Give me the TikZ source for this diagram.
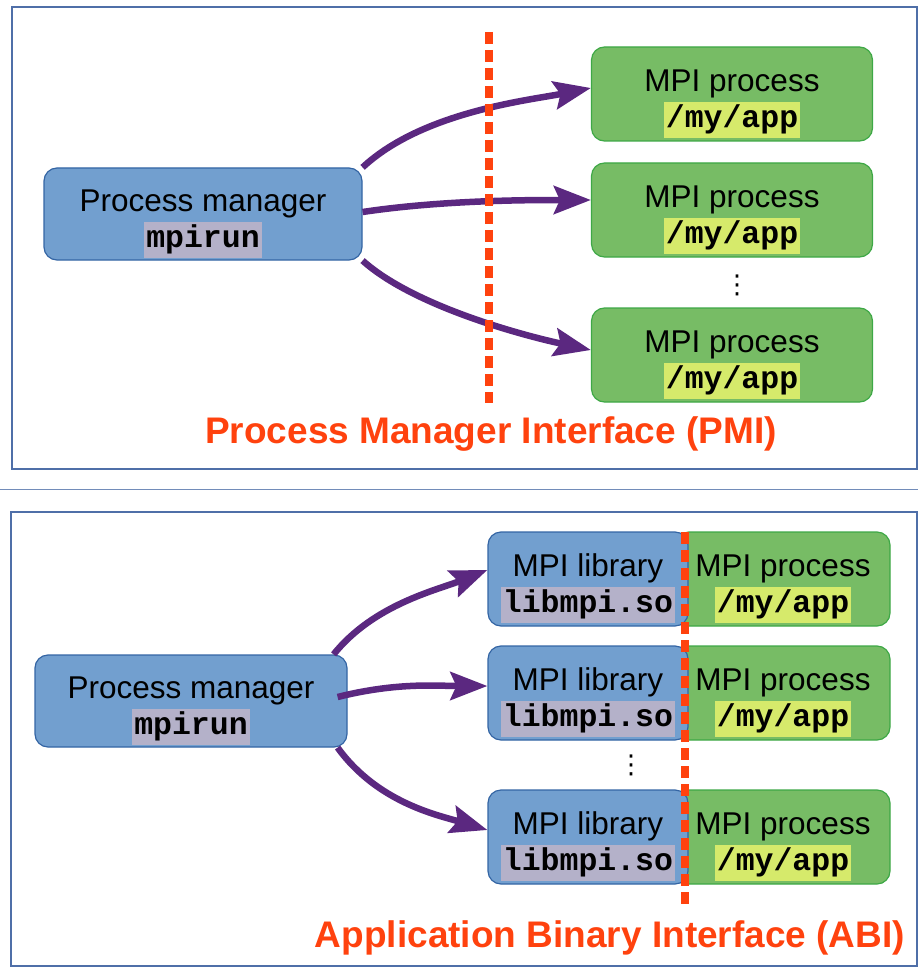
\documentclass[tikz,border=0pt]{standalone}
\usepackage{fontspec}
\setmainfont{Liberation Sans}
\setmonofont{Liberation Mono}
\newfontfamily\dotsfont{DejaVu Sans}
\usetikzlibrary{arrows.meta, positioning, calc}
\definecolor{pmblue}{RGB}{114,159,207}
\definecolor{pmblueline}{RGB}{52,101,164}
\definecolor{appgreen}{RGB}{119,188,101}
\definecolor{appgreenline}{RGB}{62,168,70}
\definecolor{hllavender}{RGB}{180,177,201}
\definecolor{hllime}{RGB}{214,234,107}
\definecolor{cutred}{RGB}{255,66,14}
\definecolor{arrpurple}{RGB}{91,40,128}
\definecolor{frameblue}{RGB}{79,111,168}
\newcommand{\hlcode}[2]{{\setlength{\fboxsep}{0pt}\colorbox{#1}{\strut\hspace{2pt}\ttfamily\bfseries #2\hspace{2pt}}}}
\newcommand{\boxtext}[3]{\rule{0pt}{41pt}#1\\\hlcode{#3}{#2}}

\begin{document}
\begin{tikzpicture}[
        x=1pt, y=-1pt,
        box/.style={rounded corners=13pt, line width=1.2pt, minimum height=94pt, inner sep=0pt, align=center, font=\fontsize{31.5}{36}\selectfont},
        pmbox/.style={box, draw=pmblueline, fill=pmblue, minimum height=92pt},
        appbox/.style={box, draw=appgreenline, fill=appgreen},
        libbox/.style={box, draw=pmblueline, fill=pmblue, minimum width=200pt},
        arr/.style={-{Stealth[length=37pt, width=28pt, inset=6pt]}, line width=6.5pt, arrpurple},
        cut/.style={cutred, line width=8pt, dash pattern=on 12pt off 6pt},
        panel/.style={frameblue, line width=1.2pt},
        ifacelabel/.style={text=cutred, inner sep=0pt, font=\fontsize{37}{44}\selectfont\bfseries},
        dotsnode/.style={inner sep=0pt, font=\dotsfont\fontsize{26}{28}\selectfont}
    ]
    \useasboundingbox (0,0) rectangle (918,968);

    % PMI panel
    \draw[panel] (12,7) rectangle (917,469);
    \node[pmbox, minimum width=318pt] (pm) at (203,214) {\boxtext{Process manager}{mpirun}{hllavender}};
    \node[appbox, minimum width=281pt] (app1) at (732,94) {\boxtext{MPI process}{/my/app}{hllime}};
    \node[appbox, minimum width=281pt] (app2) at (732,210) {\boxtext{MPI process}{/my/app}{hllime}};
    \node[appbox, minimum width=281pt] (app3) at (732,355) {\boxtext{MPI process}{/my/app}{hllime}};
    \node[dotsnode] (dots1) at (737,285) {⋮};

    \draw[arr] (pm.north east) .. controls +(60,-56) and +(-60,12) .. ([yshift=6pt]app1.west);
    \draw[arr] ([yshift=2pt]pm.east) .. controls +(80,-12) and +(-60,0) .. ([yshift=10pt]app2.west);
    \draw[arr] (pm.south east) .. controls +(50,45) and +(-70,-15) .. ([yshift=5pt]app3.west);

    \coordinate (cut1a) at (489,32);
    \coordinate (cut1b) at (489,403);
    \draw[cut] (cut1a) -- (cut1b);
    \node[ifacelabel] (pmi) at (491,434) {Process Manager Interface (PMI)};

    \coordinate (sepl) at (0,489);
    \coordinate (sepr) at (918,489);
    \draw[frameblue!80, line width=1pt] (sepl) -- (sepr);

    % ABI panel
    \draw[panel] (11,512) rectangle (917,966);
    \node[pmbox, minimum width=312pt] (pm2) at (191,701) {\boxtext{Process manager}{mpirun}{hllavender}};
    \node[appbox, minimum width=214pt] (proc1) at (783,579) {\boxtext{MPI process}{/my/app}{hllime}};
    \node[appbox, minimum width=214pt] (proc2) at (783,693) {\boxtext{MPI process}{/my/app}{hllime}};
    \node[appbox, minimum width=214pt] (proc3) at (783,837) {\boxtext{MPI process}{/my/app}{hllime}};
    \node[libbox] (lib1) at (588,579) {\boxtext{MPI library}{libmpi.so}{hllavender}};
    \node[libbox] (lib2) at (588,693) {\boxtext{MPI library}{libmpi.so}{hllavender}};
    \node[libbox] (lib3) at (588,837) {\boxtext{MPI library}{libmpi.so}{hllavender}};
    \node[dotsnode] (dots2) at (631,765) {⋮};

    \draw[arr] ([xshift=-14pt]pm2.north east) .. controls +(40,-50) and +(-50,20) .. ([yshift=9pt]lib1.west);
    \draw[arr] ([xshift=-10pt, yshift=4pt]pm2.east) .. controls +(60,-15) and +(-50,0) .. ([yshift=7pt]lib2.west);
    \draw[arr] ([xshift=-10pt]pm2.south east) .. controls +(40,55) and +(-50,-15) .. ([yshift=7pt]lib3.west);

    \coordinate (cut2a) at (685,532);
    \coordinate (cut2b) at (685,905);
    \draw[cut] (cut2a) -- (cut2b);
    \node[ifacelabel] (abi) at (610,938) {Application Binary Interface (ABI)};
\end{tikzpicture}
\end{document}
